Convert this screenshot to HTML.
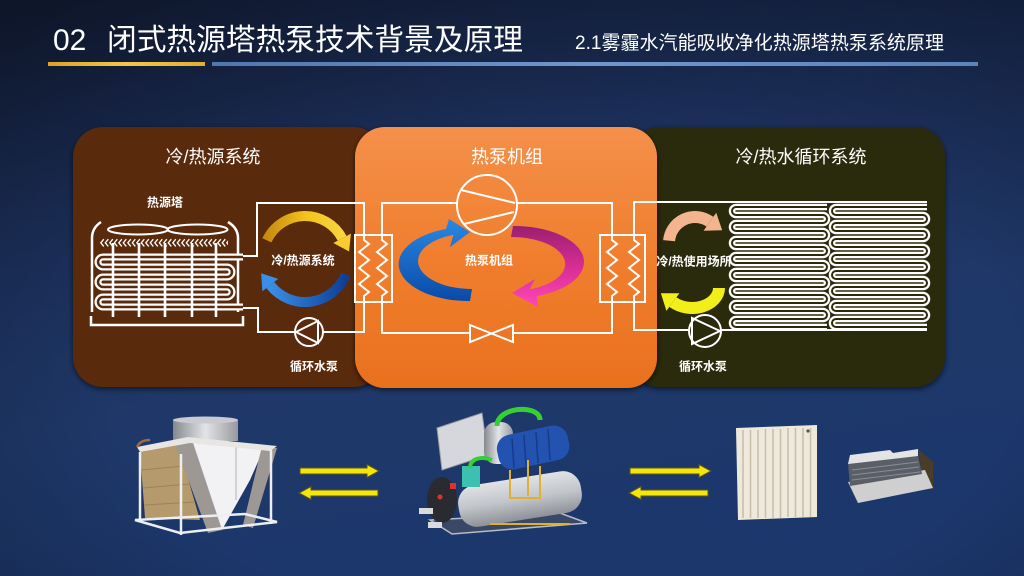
<!DOCTYPE html>
<html><head><meta charset="utf-8">
<style>
html,body{margin:0;padding:0;background:#1b2d56;}
svg{display:block;}
text{font-family:"Liberation Sans","Noto Sans CJK SC",sans-serif;fill:#fff;}
</style></head><body>
<svg width="1024" height="576" viewBox="0 0 1024 576" xmlns="http://www.w3.org/2000/svg">
<defs>
 <linearGradient id="bg" x1="0" y1="0" x2="0.3" y2="1">
  <stop offset="0" stop-color="#141f3b"/>
  <stop offset="0.35" stop-color="#1b2e58"/>
  <stop offset="0.7" stop-color="#1f3869"/>
  <stop offset="1" stop-color="#1c376c"/>
 </linearGradient>
 <radialGradient id="vig" cx="0.55" cy="0.65" r="0.8">
  <stop offset="0.55" stop-color="#000" stop-opacity="0"/>
  <stop offset="1" stop-color="#000" stop-opacity="0.3"/>
 </radialGradient>
 <linearGradient id="og" x1="0" y1="0" x2="0" y2="1">
  <stop offset="0" stop-color="#f4904a"/>
  <stop offset="0.5" stop-color="#f07e2e"/>
  <stop offset="1" stop-color="#e9711e"/>
 </linearGradient>
 <linearGradient id="ybar" x1="0" y1="0" x2="1" y2="0">
  <stop offset="0" stop-color="#d9a428"/><stop offset="0.5" stop-color="#f2c84a"/><stop offset="1" stop-color="#e0ae30"/>
 </linearGradient>
 <linearGradient id="bbar" x1="0" y1="0" x2="1" y2="0">
  <stop offset="0" stop-color="#4f77ad"/><stop offset="0.5" stop-color="#6f97c9"/><stop offset="1" stop-color="#5b84bb"/>
 </linearGradient>
 <linearGradient id="yg" x1="0" y1="0" x2="1" y2="0">
  <stop offset="0" stop-color="#c98a10"/><stop offset="0.5" stop-color="#f2c21a"/><stop offset="1" stop-color="#f8d440"/>
 </linearGradient>
 <linearGradient id="blg" x1="1" y1="0" x2="0" y2="0">
  <stop offset="0" stop-color="#0d3f94"/><stop offset="1" stop-color="#3a8ee8"/>
 </linearGradient>
 <linearGradient id="mb" x1="0" y1="0" x2="0" y2="1">
  <stop offset="0" stop-color="#2a88e2"/><stop offset="1" stop-color="#0a4aa8"/>
 </linearGradient>
 <linearGradient id="mp" x1="0" y1="0" x2="0" y2="1">
  <stop offset="0" stop-color="#9a1f6e"/><stop offset="0.5" stop-color="#d82c94"/><stop offset="1" stop-color="#ff48b8"/>
 </linearGradient>
 <linearGradient id="cyl" x1="0" y1="0" x2="1" y2="0">
  <stop offset="0" stop-color="#85888d"/><stop offset="0.5" stop-color="#e2e4e8"/><stop offset="1" stop-color="#97999e"/>
 </linearGradient>
 <linearGradient id="cylv" x1="0" y1="0" x2="0" y2="1">
  <stop offset="0" stop-color="#e0e2e6"/><stop offset="0.5" stop-color="#c2c5ca"/><stop offset="1" stop-color="#8e9298"/>
 </linearGradient>
 <pattern id="chev" x="100" y="238" width="4.5" height="10" patternUnits="userSpaceOnUse">
  <path d="M3.8,1.2 L0.8,4.8 L3.8,8.4" stroke="#fff" stroke-width="1.3" fill="none"/>
 </pattern>
 <filter id="sh" x="-10%" y="-10%" width="120%" height="120%">
  <feDropShadow dx="0" dy="2" stdDeviation="3" flood-color="#000" flood-opacity="0.6"/>
 </filter>
</defs>

<!-- background -->
<rect width="1024" height="576" fill="url(#bg)"/>
<rect width="1024" height="576" fill="url(#vig)"/>

<!-- header -->
<text x="53" y="50" font-size="30">02</text>
<text x="107" y="50" font-size="30" textLength="416" lengthAdjust="spacingAndGlyphs">闭式热源塔热泵技术背景及原理</text>
<text x="575" y="49" font-size="19" textLength="369" lengthAdjust="spacingAndGlyphs">2.1雾霾水汽能吸收净化热源塔热泵系统原理</text>
<rect x="48" y="62" width="157" height="4" fill="url(#ybar)"/>
<rect x="212" y="62" width="766" height="4" fill="url(#bbar)"/>

<!-- panels -->
<rect x="73" y="127" width="310" height="260" rx="30" fill="#5a2a0b" filter="url(#sh)"/>
<rect x="630" y="127" width="315" height="260" rx="30" fill="#2c2a0b" filter="url(#sh)"/>
<rect x="355" y="127" width="302" height="261" rx="30" fill="url(#og)" filter="url(#sh)"/>

<!-- panel titles -->
<text x="213" y="163" font-size="18" text-anchor="middle">冷/热源系统</text>
<text x="507" y="163" font-size="18" text-anchor="middle">热泵机组</text>
<text x="801" y="163" font-size="18" text-anchor="middle">冷/热水循环系统</text>

<!-- ===== left panel diagram ===== -->
<text x="165" y="206.5" font-size="12" font-weight="bold" text-anchor="middle">热源塔</text>
<ellipse cx="138" cy="229.5" rx="30" ry="5" fill="none" stroke="#fff" stroke-width="2"/>
<ellipse cx="197.5" cy="229.5" rx="30" ry="5" fill="none" stroke="#fff" stroke-width="2"/>
<rect x="100" y="238" width="128" height="10" fill="url(#chev)"/>
<path d="M101,222 Q92,228 92,238 V312" fill="none" stroke="#fff" stroke-width="2.5"/>
<path d="M228,222 Q238,228 238,238 V312" fill="none" stroke="#fff" stroke-width="2.5"/>
<path d="M91,316 V325 H243 V316" fill="none" stroke="#fff" stroke-width="2.5"/>
<path d="M243,257 H103 a5,5 0 0 0 0,10 H227 a5,5 0 0 1 0,10 H103 a5,5 0 0 0 0,10 H227 a5,5 0 0 1 0,10 H103 a5,5 0 0 0 0,10 H243" fill="none" stroke="#fff" stroke-width="7"/>
<path d="M243,257 H103 a5,5 0 0 0 0,10 H227 a5,5 0 0 1 0,10 H103 a5,5 0 0 0 0,10 H227 a5,5 0 0 1 0,10 H103 a5,5 0 0 0 0,10 H243" fill="none" stroke="#5a2a0b" stroke-width="2.5"/>
<g stroke="#fff" stroke-width="2.6">
 <line x1="113" y1="243" x2="113" y2="317"/>
 <line x1="139" y1="243" x2="139" y2="317"/>
 <line x1="165" y1="243" x2="165" y2="317"/>
 <line x1="192" y1="243" x2="192" y2="317"/>
 <line x1="216" y1="243" x2="216" y2="317"/>
</g>
<!-- left pipes -->
<g fill="none" stroke="#fff" stroke-width="2">
 <path d="M243,256 H257 V203 H364 V235"/>
 <path d="M243,308 H258 V332 H295"/>
 <path d="M323,332 H364 V302"/>
 <circle cx="309" cy="332" r="14"/>
 <path d="M296,332 L318,321 L318,343 Z"/>
</g>
<text x="314" y="370.5" font-size="12" font-weight="bold" text-anchor="middle">循环水泵</text>
<!-- left circular arrows -->
<path d="M266.9,240.3 A42,42 0 0 1 342.1,238.3" fill="none" stroke="url(#yg)" stroke-width="10"/>
<polygon points="350.9,233.6 333.3,243 349.1,251.5" fill="#f6cc30"/>
<path d="M345.8,274.5 A44,44 0 0 1 270.3,285.1" fill="none" stroke="url(#blg)" stroke-width="10"/>
<polygon points="262.4,291.3 278.2,278.9 261.1,273.3" fill="#3a8ee8"/>
<text x="303" y="264.5" font-size="12" font-weight="bold" text-anchor="middle">冷/热源系统</text>

<!-- ===== heat exchangers ===== -->
<g fill="none" stroke="#fff" stroke-width="2">
 <rect x="355" y="235" width="37" height="67"/>
 <path d="M364,235 V240 L369,244 L359,252 L369,260 L359,268 L369,276 L359,284 L369,292 L364,296 V302"/>
 <path d="M382,235 V240 L387,244 L377,252 L387,260 L377,268 L387,276 L377,284 L387,292 L382,296 V302"/>
 <rect x="600" y="235" width="45" height="67"/>
 <path d="M612,235 V240 L617,244 L607,252 L617,260 L607,268 L617,276 L607,284 L617,292 L612,296 V302"/>
 <path d="M634,235 V240 L639,244 L629,252 L639,260 L629,268 L639,276 L629,284 L639,292 L634,296 V302"/>
</g>

<!-- ===== middle diagram ===== -->
<g fill="none" stroke="#fff" stroke-width="2">
 <path d="M382,235 V203 H457"/>
 <path d="M517,203 H612 V235"/>
 <path d="M382,302 V333 H470"/>
 <path d="M513,333 H612 V302"/>
 <path d="M470,325 L513,342 L513,325 L470,342 Z"/>
 <circle cx="487" cy="205" r="30"/>
 <line x1="461" y1="190" x2="515" y2="203"/>
 <line x1="464" y1="224" x2="514" y2="212"/>
</g>
<path d="M470,301 A70,37 0 0 1 446,229 L449,219 L470,232 L450,247 L453.5,234.7 A54,28 0 0 0 472,289 Z" fill="url(#mb)"/>
<path d="M513,226 A70,36 0 0 1 537,296 L538,307 L512,293 L535,279 L529.5,289.4 A54,27 0 0 0 511,237 Z" fill="url(#mp)"/>
<text x="489" y="264.5" font-size="12" font-weight="bold" text-anchor="middle">热泵机组</text>

<!-- ===== right panel diagram ===== -->
<g fill="none" stroke="#fff" stroke-width="2">
 <path d="M634,235 V202 H927"/>
 <path d="M634,302 V330 H689"/>
 <path d="M721,330 H927"/>
 <circle cx="705" cy="331" r="16"/>
 <path d="M720,331 L692,318 L692,344 Z"/>
</g>
<path d="M827,207H736a4 4 0 0 0 0 8H823a4 4 0 0 1 0 8H736a4 4 0 0 0 0 8H823a4 4 0 0 1 0 8H736a4 4 0 0 0 0 8H823a4 4 0 0 1 0 8H736a4 4 0 0 0 0 8H823a4 4 0 0 1 0 8H736a4 4 0 0 0 0 8H823a4 4 0 0 1 0 8H736a4 4 0 0 0 0 8H823a4 4 0 0 1 0 8H736a4 4 0 0 0 0 8H823a4 4 0 0 1 0 8H736a4 4 0 0 0 0 8H827" fill="none" stroke="#fff" stroke-width="6.5"/>
<path d="M827,207H736a4 4 0 0 0 0 8H823a4 4 0 0 1 0 8H736a4 4 0 0 0 0 8H823a4 4 0 0 1 0 8H736a4 4 0 0 0 0 8H823a4 4 0 0 1 0 8H736a4 4 0 0 0 0 8H823a4 4 0 0 1 0 8H736a4 4 0 0 0 0 8H823a4 4 0 0 1 0 8H736a4 4 0 0 0 0 8H823a4 4 0 0 1 0 8H736a4 4 0 0 0 0 8H823a4 4 0 0 1 0 8H736a4 4 0 0 0 0 8H827" fill="none" stroke="#2c2a0b" stroke-width="2"/>
<path d="M927,207H836a4 4 0 0 0 0 8H923a4 4 0 0 1 0 8H836a4 4 0 0 0 0 8H923a4 4 0 0 1 0 8H836a4 4 0 0 0 0 8H923a4 4 0 0 1 0 8H836a4 4 0 0 0 0 8H923a4 4 0 0 1 0 8H836a4 4 0 0 0 0 8H923a4 4 0 0 1 0 8H836a4 4 0 0 0 0 8H923a4 4 0 0 1 0 8H836a4 4 0 0 0 0 8H923a4 4 0 0 1 0 8H836a4 4 0 0 0 0 8H927" fill="none" stroke="#fff" stroke-width="6.5"/>
<path d="M927,207H836a4 4 0 0 0 0 8H923a4 4 0 0 1 0 8H836a4 4 0 0 0 0 8H923a4 4 0 0 1 0 8H836a4 4 0 0 0 0 8H923a4 4 0 0 1 0 8H836a4 4 0 0 0 0 8H923a4 4 0 0 1 0 8H836a4 4 0 0 0 0 8H923a4 4 0 0 1 0 8H836a4 4 0 0 0 0 8H923a4 4 0 0 1 0 8H836a4 4 0 0 0 0 8H923a4 4 0 0 1 0 8H836a4 4 0 0 0 0 8H927" fill="none" stroke="#2c2a0b" stroke-width="2"/>
<!-- right arrows -->
<path d="M669.1,240.7 A26,26 0 0 1 709.9,221.7" fill="none" stroke="#f5b490" stroke-width="12"/>
<polygon points="716.2,212.7 703.6,230.7 722.2,230.3" fill="#f5b490"/>
<path d="M719,288 A27,20 0 0 1 672.9,302.1" fill="none" stroke="#f2ee1a" stroke-width="12"/>
<polygon points="666.4,310.9 679.4,293.3 660.9,293.2" fill="#f2ee1a"/>
<text x="694" y="265.5" font-size="12" font-weight="bold" text-anchor="middle">冷/热使用场所</text>
<text x="703" y="370.5" font-size="12" font-weight="bold" text-anchor="middle">循环水泵</text>

<!-- ===== bottom products ===== -->
<!-- tower -->
<g>
 <rect x="173" y="420" width="65" height="21" fill="url(#cyl)"/>
 <ellipse cx="205.5" cy="420" rx="32.5" ry="3.5" fill="#c8cacf"/>
 <polygon points="140,452 178,444 200,520 145,518" fill="#b49a6c"/>
 <g stroke="#9c8358" stroke-width="1">
  <line x1="142" y1="470" x2="184" y2="466"/><line x1="143" y1="488" x2="189" y2="484"/><line x1="144" y1="505" x2="195" y2="502"/>
 </g>
 <polygon points="175,444 192,440 222,530 208,533" fill="#9e9894"/>
 <polygon points="192,440 265,446 250,480 222,530" fill="#f2f2f4"/>
 <line x1="236" y1="444" x2="236" y2="500" stroke="#c8c8cc" stroke-width="1.5"/>
 <polygon points="262,446 277,448 253,528 243,525" fill="#9e9894"/>
 <polygon points="137,447 188,437 277,446 270,451 190,443 140,452" fill="#e8e6e2"/>
 <path d="M137,447 Q140,440 150,440" stroke="#a06a40" stroke-width="2.5" fill="none"/>
 <g stroke="#eceef2" stroke-width="2.5" fill="none">
  <line x1="140" y1="452" x2="140" y2="522"/>
  <line x1="181" y1="454" x2="181" y2="535"/>
  <line x1="271" y1="450" x2="271" y2="524"/>
  <path d="M135,520 L180,533 L277,522 L245,514 Z"/>
 </g>
</g>
<!-- arrows -->
<g fill="#f5e60a" stroke="#5a5420" stroke-width="1">
 <path d="M300,468 H367 V464.5 L379,471 L367,477.5 V474 H300 Z"/>
 <path d="M378,490 H311 V486.5 L299,493 L311,499.5 V496 H378 Z"/>
 <path d="M630,468 H699 V464.5 L711,471 L699,477.5 V474 H630 Z"/>
 <path d="M708,490 H641 V486.5 L629,493 L641,499.5 V496 H708 Z"/>
</g>
<!-- chiller -->
<g>
 <polygon points="430,520 560,513 587,523 452,534" fill="#3a4868" stroke="#b8bcc4" stroke-width="1.5"/>
 <polygon points="437,428 482,413 488,455 442,470" fill="#d6d7dc" stroke="#9a9ca2" stroke-width="1"/>
 <rect x="484" y="422" width="29" height="42" rx="12" fill="url(#cyl)"/>
 <path d="M497,426 C497,406 540,404 540,420" stroke="#36d036" stroke-width="5" fill="none"/>
 <rect x="497" y="430" width="72" height="35" rx="14" fill="#2352b0" transform="rotate(-12 533 447)"/>
 <g stroke="#163c88" stroke-width="1.5">
  <line x1="512" y1="438" x2="514" y2="468"/><line x1="524" y1="435" x2="526" y2="466"/><line x1="536" y1="432" x2="538" y2="463"/><line x1="548" y1="429" x2="550" y2="460"/>
 </g>
 <rect x="458" y="478" width="124" height="42" rx="18" fill="url(#cylv)" transform="rotate(-9 520 499)"/>
 <ellipse cx="442" cy="500" rx="15" ry="23" fill="#2a2b30"/>
 <circle cx="440" cy="497" r="2.5" fill="#e03030"/>
 <rect x="462" y="466" width="18" height="21" fill="#3cc0b0"/>
 <path d="M470,468 C470,458 482,456 492,460" stroke="#36d036" stroke-width="4" fill="none"/>
 <rect x="450" y="483" width="6" height="6" fill="#e03030"/>
 <g stroke="#e0b030" stroke-width="2" fill="none">
  <path d="M510,470 V498 H540 V466"/>
  <path d="M490,524 H570"/>
  <path d="M528,460 V496"/>
 </g>
 <rect x="419" y="508" width="14" height="6" fill="#d8dade"/>
 <rect x="428" y="522" width="14" height="6" fill="#d8dade"/>
</g>
<!-- radiator -->
<g>
 <polygon points="736,428 817,425 817,517 738,520" fill="#efe9dc"/>
 <g stroke="#c8bfac" stroke-width="1.6">
  <line x1="743" y1="430" x2="743" y2="518"/><line x1="750.5" y1="430" x2="750.5" y2="518"/>
  <line x1="758" y1="430" x2="758" y2="518"/><line x1="765.5" y1="429" x2="765.5" y2="518"/>
  <line x1="773" y1="429" x2="773" y2="518"/><line x1="780.5" y1="429" x2="780.5" y2="518"/>
  <line x1="788" y1="428" x2="788" y2="517"/><line x1="795.5" y1="428" x2="795.5" y2="517"/>
  <line x1="803" y1="428" x2="803" y2="517"/><line x1="810.5" y1="428" x2="810.5" y2="517"/>
 </g>
 <circle cx="808" cy="431" r="1.6" fill="#555"/>
</g>
<!-- fan coil -->
<g>
 <polygon points="918,449 933,462 933,490 922,474" fill="#4a3c26"/>
 <polygon points="848,482 925,470 933,488 858,503" fill="#cfcfd0"/>
 <polygon points="848,463 918,455 922,474 850,486" fill="#5a5e66"/>
 <g stroke="#8a8e96" stroke-width="1">
  <line x1="852" y1="470" x2="918" y2="462"/><line x1="852" y1="475" x2="919" y2="467"/><line x1="852" y1="480" x2="920" y2="472"/>
 </g>
 <polygon points="850,455 890,450 893,453 918,449 918,456 848,464" fill="#e4e4e6"/>
</g>
</svg>
</body></html>
